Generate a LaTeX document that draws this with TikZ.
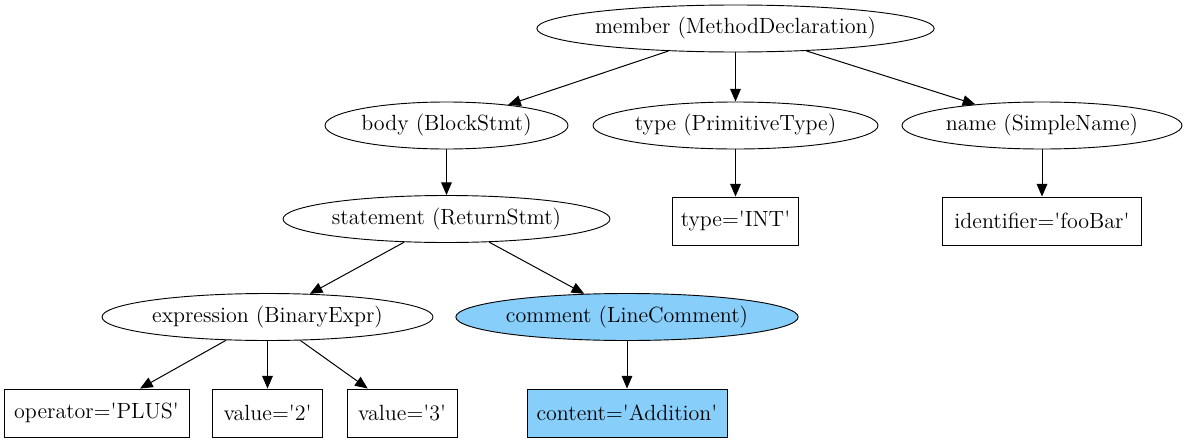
\documentclass[tikz,border=0pt]{standalone}
\usetikzlibrary{shapes.geometric, arrows.meta}
\definecolor{commentblue}{HTML}{87CEFA}
\newcommand{\q}{\textquotesingle}

\begin{document}
\begin{tikzpicture}[x=0.6pt,y=-0.6pt,
  every node/.style={draw,inner sep=0pt,line width=0.55pt,font=\fontsize{13.2}{15}\selectfont},
  ast/.style={shape=ellipse,minimum height=28.2pt},
  leaf/.style={shape=rectangle,minimum height=28.8pt},
  edge/.style={line width=0.6pt,-{Triangle[length=7.6pt,width=6.4pt]}}]
  \useasboundingbox (0,0) rectangle (1188,443);
  % ast nodes
  \path (735.5,28.5) node[ast,minimum width=237pt] (member) {member (MethodDeclaration)}
  (446.5,125.5) node[ast,minimum width=145.8pt] (body) {body (BlockStmt)}
  (735.5,125.5) node[ast,minimum width=171pt] (type) {type (PrimitiveType)}
  (1042,125.5) node[ast,minimum width=168pt] (name) {name (SimpleName)}
  (446.5,219) node[ast,minimum width=196.2pt] (stmt) {statement (ReturnStmt)}
  (267.5,317) node[ast,minimum width=198.6pt] (expr) {expression (BinaryExpr)}
  (627,317) node[ast,minimum width=205.2pt,fill=commentblue] (comment) {comment (LineComment)};
  % attribute boxes
  \path (735.5,221) node[leaf,minimum width=75.6pt] (typeval) {type=\q INT\q}
  (1042,221) node[leaf,minimum width=119.4pt] (ident) {identifier=\q fooBar\q}
  (96.5,413) node[leaf,minimum width=111pt] (op) {operator=\q PLUS\q}
  (267.5,413) node[leaf,minimum width=66pt] (val2) {value=\q 2\q}
  (402,413) node[leaf,minimum width=66pt] (val3) {value=\q 3\q}
  (627,413) node[leaf,minimum width=120pt,fill=commentblue] (content) {content=\q Addition\q};
  \draw[edge] (member) -- (body);
  \draw[edge] (member) -- (type);
  \draw[edge] (member) -- (name);
  \draw[edge] (body) -- (stmt);
  \draw[edge] (type) -- (typeval);
  \draw[edge] (name) -- (ident);
  \draw[edge] (stmt) -- (expr);
  \draw[edge] (stmt) -- (comment);
  \draw[edge] (expr) -- (op);
  \draw[edge] (expr) -- (val2);
  \draw[edge] (expr) -- (val3);
  \draw[edge] (comment) -- (content);
\end{tikzpicture}
\end{document}
